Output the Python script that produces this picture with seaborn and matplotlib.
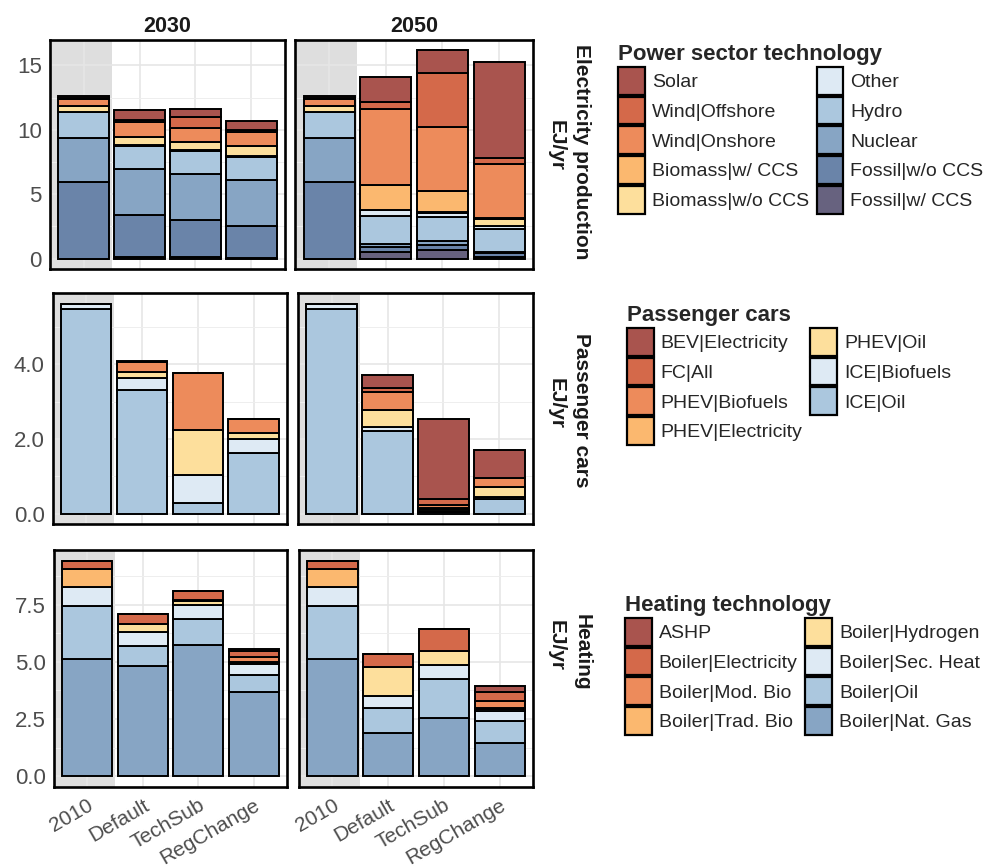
import numpy as np
import pandas as pd
import matplotlib
matplotlib.use("Agg")
import matplotlib.pyplot as plt
from matplotlib.patches import Patch
from matplotlib.ticker import MultipleLocator
import seaborn as sns

# scenarios shown on the x axis
scenarios = ["2010", "Default", "TechSub", "RegChange"]
years = ["2030", "2050"]

# ---- power sector (EJ/yr), order = legend order (top of stack first)
power_techs = ["Solar", "Wind|Offshore", "Wind|Onshore", "Biomass|w/ CCS", "Biomass|w/o CCS",
               "Other", "Hydro", "Nuclear", "Fossil|w/o CCS", "Fossil|w/ CCS"]
power_colors = ["#a9544e", "#d4694a", "#ed8b5b", "#fbb86f", "#fddf9c",
                "#deeaf4", "#abc7de", "#87a5c4", "#6a84a9", "#67627f"]
power_2030 = {
    "Solar":           [0.10, 0.74, 0.67, 0.68],
    "Wind|Offshore":   [0.10, 0.17, 0.80, 0.17],
    "Wind|Onshore":    [0.55, 1.20, 1.13, 1.03],
    "Biomass|w/ CCS":  [0.00, 0.00, 0.00, 0.00],
    "Biomass|w/o CCS": [0.45, 0.63, 0.62, 0.83],
    "Other":           [0.05, 0.05, 0.05, 0.05],
    "Hydro":           [2.00, 1.80, 1.78, 1.77],
    "Nuclear":         [3.40, 3.60, 3.60, 3.63],
    "Fossil|w/o CCS":  [5.95, 3.20, 2.85, 2.45],
    "Fossil|w/ CCS":   [0.00, 0.15, 0.15, 0.05],
}
power_2050 = {
    "Solar":           [0.10, 1.93, 1.75, 7.45],
    "Wind|Offshore":   [0.10, 0.56, 4.20, 0.44],
    "Wind|Onshore":    [0.55, 5.93, 4.97, 4.24],
    "Biomass|w/ CCS":  [0.00, 1.88, 1.62, 0.03],
    "Biomass|w/o CCS": [0.45, 0.07, 0.06, 0.52],
    "Other":           [0.05, 0.45, 0.35, 0.30],
    "Hydro":           [2.00, 2.16, 1.88, 1.72],
    "Nuclear":         [3.40, 0.20, 0.31, 0.10],
    "Fossil|w/o CCS":  [5.95, 0.42, 0.36, 0.35],
    "Fossil|w/ CCS":   [0.00, 0.51, 0.67, 0.10],
}

# ---- passenger cars (EJ/yr)
car_techs = ["BEV|Electricity", "FC|All", "PHEV|Biofuels", "PHEV|Electricity",
             "PHEV|Oil", "ICE|Biofuels", "ICE|Oil"]
car_colors = ["#a9544e", "#d4694a", "#ed8b5b", "#fbb86f", "#fddf9c", "#deeaf4", "#abc7de"]
car_2030 = {
    "BEV|Electricity":  [0.00, 0.02, 0.00, 0.00],
    "FC|All":           [0.00, 0.00, 0.00, 0.00],
    "PHEV|Biofuels":    [0.00, 0.27, 1.52, 0.38],
    "PHEV|Electricity": [0.00, 0.00, 0.00, 0.00],
    "PHEV|Oil":         [0.00, 0.17, 1.20, 0.17],
    "ICE|Biofuels":     [0.16, 0.32, 0.76, 0.37],
    "ICE|Oil":          [5.47, 3.30, 0.28, 1.62],
}
car_2050 = {
    "BEV|Electricity":  [0.00, 0.33, 2.15, 0.74],
    "FC|All":           [0.00, 0.12, 0.15, 0.00],
    "PHEV|Biofuels":    [0.00, 0.48, 0.08, 0.24],
    "PHEV|Electricity": [0.00, 0.00, 0.03, 0.00],
    "PHEV|Oil":         [0.00, 0.45, 0.05, 0.27],
    "ICE|Biofuels":     [0.16, 0.12, 0.03, 0.07],
    "ICE|Oil":          [5.47, 2.20, 0.04, 0.38],
}

# ---- heating (EJ/yr)
heat_techs = ["ASHP", "Boiler|Electricity", "Boiler|Mod. Bio", "Boiler|Trad. Bio",
              "Boiler|Hydrogen", "Boiler|Sec. Heat", "Boiler|Oil", "Boiler|Nat. Gas"]
heat_colors = ["#a9544e", "#d4694a", "#ed8b5b", "#fbb86f", "#fddf9c", "#deeaf4", "#abc7de", "#87a5c4"]
heat_2030 = {
    "ASHP":               [0.00, 0.00, 0.00, 0.06],
    "Boiler|Electricity": [0.38, 0.42, 0.40, 0.30],
    "Boiler|Mod. Bio":    [0.00, 0.02, 0.00, 0.20],
    "Boiler|Trad. Bio":   [0.75, 0.00, 0.03, 0.05],
    "Boiler|Hydrogen":    [0.00, 0.32, 0.18, 0.05],
    "Boiler|Sec. Heat":   [0.85, 0.63, 0.63, 0.46],
    "Boiler|Oil":         [2.31, 0.87, 1.11, 0.77],
    "Boiler|Nat. Gas":    [5.12, 4.82, 5.75, 3.66],
}
heat_2050 = {
    "ASHP":               [0.00, 0.00, 0.00, 0.28],
    "Boiler|Electricity": [0.38, 0.57, 0.94, 0.38],
    "Boiler|Mod. Bio":    [0.00, 0.00, 0.00, 0.32],
    "Boiler|Trad. Bio":   [0.75, 0.00, 0.00, 0.02],
    "Boiler|Hydrogen":    [0.00, 1.30, 0.60, 0.10],
    "Boiler|Sec. Heat":   [0.85, 0.50, 0.64, 0.44],
    "Boiler|Oil":         [2.31, 1.09, 1.69, 0.95],
    "Boiler|Nat. Gas":    [5.12, 1.90, 2.54, 1.46],
}

rows = [
    dict(name="Electricity production", legend="Power sector technology", techs=power_techs,
         colors=power_colors, data=[power_2030, power_2050], major=5, fmt="{:.0f}"),
    dict(name="Passenger cars", legend="Passenger cars", techs=car_techs,
         colors=car_colors, data=[car_2030, car_2050], major=2, fmt="{:.1f}"),
    dict(name="Heating", legend="Heating technology", techs=heat_techs,
         colors=heat_colors, data=[heat_2030, heat_2050], major=2.5, fmt="{:.1f}"),
]

# panel boxes in pixels: (left, right) per column, (top, bottom) per row
W, H = 994, 868
col_px = [[(50, 285), (295, 533)], [(53, 287), (298, 533)], [(54, 287), (299, 533)]]
row_px = [(40, 269), (293, 524), (550, 787)]
legend_px = [(618, 44), (627, 305), (625, 595)]
label_y = [152, 410, 652]

sns.set_theme(style="white")
plt.rcParams["font.family"] = ["Liberation Sans", "DejaVu Sans"]

fig = plt.figure(figsize=(W / 100, H / 100), dpi=100)


def to_frame(d):
    recs = []
    for tech, vals in d.items():
        for i, v in enumerate(vals):
            recs.append({"pos": i, "tech": tech, "value": v})
    return pd.DataFrame(recs)


for r, row in enumerate(rows):
    totals = [np.sum(list(d.values()), axis=0).max() for d in row["data"]]
    ymax = max(totals)
    pal = dict(zip(row["techs"], row["colors"]))
    for c, d in enumerate(row["data"]):
        x0, x1 = col_px[r][c]
        y0, y1 = row_px[r]
        ax = fig.add_axes([x0 / W, 1 - y1 / H, (x1 - x0) / W, (y1 - y0) / H])
        df = to_frame(d)
        sns.histplot(data=df, x="pos", weights="value", hue="tech", hue_order=row["techs"],
                     palette=pal, multiple="stack", discrete=True, shrink=0.9,
                     edgecolor="black", linewidth=1.4, alpha=1, legend=False, ax=ax)
        ax.set_xlim(-0.6, 3.6)
        ax.set_ylim(-0.05 * ymax, 1.05 * ymax)
        ax.axvspan(-0.6, 0.5, color="#dedede", zorder=0, lw=0)
        ax.set_axisbelow(True)
        ax.yaxis.set_major_locator(MultipleLocator(row["major"]))
        ax.yaxis.set_minor_locator(MultipleLocator(row["major"] / 2))
        ax.grid(which="major", color="#e6e6e6", lw=1.2)
        ax.grid(which="minor", axis="y", color="#eeeeee", lw=0.7)
        ax.set_xticks(range(len(scenarios)))
        ax.set_xlabel("")
        ax.set_ylabel("")
        for sp in ax.spines.values():
            sp.set_color("black")
            sp.set_linewidth(1.9)
        ax.tick_params(which="major", length=4, width=1, color="#333333",
                       labelsize=16, labelcolor="#4d4d4d", pad=2)
        ax.tick_params(which="minor", length=0)
        if r == 2:
            ax.set_xticklabels(scenarios, rotation=30, ha="right", rotation_mode="anchor",
                               fontsize=15)
        else:
            ax.set_xticklabels([])
        if c == 0:
            ticks = ax.get_yticks()
            ticks = [t for t in ticks if -1e-9 <= t <= ymax * 1.05]
            ax.set_yticks(ticks)
            ax.set_yticklabels([row["fmt"].format(t) for t in ticks])
        else:
            ax.set_yticklabels([])
            ax.tick_params(axis="y", length=0)
        if r == 0:
            ax.set_title(years[c], fontsize=15.5, fontweight="bold", color="#1a1a1a", pad=6)

    # side labels
    fig.text(582 / W, 1 - label_y[r] / H, row["name"], rotation=270, ha="center", va="center",
             fontsize=15, fontweight="bold", color="#1a1a1a")
    fig.text(556 / W, 1 - (label_y[r] - 6) / H, "EJ/yr", rotation=270, ha="center", va="center",
             fontsize=15, fontweight="bold", color="#1a1a1a")

    # legend, keys stacked edge to edge
    handles = [Patch(facecolor=pal[t], edgecolor="black", linewidth=1.6) for t in row["techs"]]
    lx, ly = legend_px[r]
    leg = fig.legend(handles, row["techs"], loc="upper left", bbox_to_anchor=(lx / W, 1 - ly / H),
                     ncol=2, frameon=False, fontsize=14, title=row["legend"],
                     title_fontproperties={"weight": "bold", "size": 16},
                     handlelength=1.38, handleheight=1.82, labelspacing=0.1,
                     handletextpad=0.35, columnspacing=0.4, borderpad=0, borderaxespad=0,
                     alignment="left")

fig.savefig("out.png", dpi=100)
